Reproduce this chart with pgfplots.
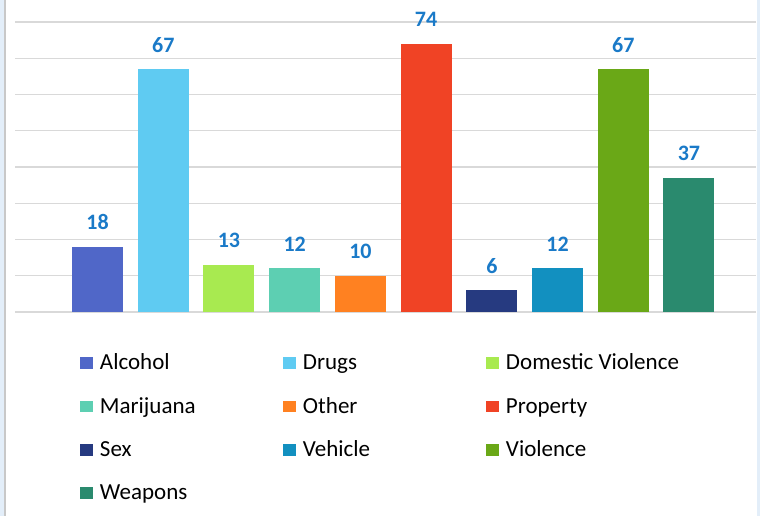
\documentclass[border=0pt]{standalone}
\usepackage{pgfplots}
\pgfplotsset{compat=1.18}
\usepackage{fontspec}
\setmainfont{Carlito}
\definecolor{cAlc}{RGB}{80,103,200}
\definecolor{cDrug}{RGB}{95,203,242}
\definecolor{cDom}{RGB}{168,234,80}
\definecolor{cMar}{RGB}{93,207,178}
\definecolor{cOth}{RGB}{255,129,33}
\definecolor{cProp}{RGB}{240,67,37}
\definecolor{cSex}{RGB}{38,58,128}
\definecolor{cVeh}{RGB}{18,144,192}
\definecolor{cVio}{RGB}{106,168,23}
\definecolor{cWea}{RGB}{42,138,110}
\definecolor{gridgray}{RGB}{217,217,217}
\definecolor{labelblue}{RGB}{26,122,200}
\definecolor{edgeblue}{RGB}{227,238,249}
\definecolor{edgegray}{RGB}{200,200,200}
\begin{document}
\begin{tikzpicture}[x=1bp,y=1bp]
\useasboundingbox (0,0) rectangle (760,516);
\fill[white] (0,0) rectangle (760,516);
\fill[edgeblue] (0,0) rectangle (4,516);
\fill[edgegray] (4,0) rectangle (5.5,516);
\fill[edgeblue] (757,0) rectangle (760,516);
\begin{axis}[
  at={(15bp,204bp)}, anchor=south west,
  scale only axis, width=741bp, height=290bp,
  clip=false,
  /pgf/number format/assume math mode=true,
  xmin=-1.256, xmax=10.02, ymin=0, ymax=80,
  ytick={0,10,...,80}, yticklabels={}, xtick=\empty,
  ymajorgrids, grid style={draw=gridgray, line width=1.3bp},
  axis line style={draw=none}, major tick length=0pt,
  ybar, bar width=51bp, bar shift=0pt,
  nodes near coords,
  every node near coord/.append style={font=\bfseries\fontsize{22bp}{26bp}\selectfont, text=labelblue, anchor=base, inner sep=0pt, yshift=17bp},
  mybar/.style={fill=#1, draw=none, legend image code/.code={\fill[fill=#1, draw=none] (0bp,-4.2bp) rectangle (13bp,7.5bp);}},
  legend columns=3,
  legend cell align=left,
  legend style={draw=none, fill=none, at={(0.0877,-0.151)}, anchor=north west,
    inner sep=0pt, outer sep=0pt, column sep=0pt, row sep=25.3bp,
    nodes={inner sep=0pt, outer sep=0pt, text height=14bp, text depth=4bp, font=\fontsize{23bp}{27bp}\selectfont},
    /tikz/every odd column/.append style={column sep=7bp}},
]
\addplot[mybar=cAlc] coordinates {(0,18)};
\addlegendentry{\makebox[183bp][l]{Alcohol}}
\addplot[mybar=cDrug] coordinates {(1,67)};
\addlegendentry{\makebox[183bp][l]{Drugs}}
\addplot[mybar=cDom] coordinates {(2,13)};
\addlegendentry{\makebox[183bp][l]{Domestic Violence}}
\addplot[mybar=cMar] coordinates {(3,12)};
\addlegendentry{\makebox[183bp][l]{Marijuana}}
\addplot[mybar=cOth] coordinates {(4,10)};
\addlegendentry{\makebox[183bp][l]{Other}}
\addplot[mybar=cProp] coordinates {(5,74)};
\addlegendentry{\makebox[183bp][l]{Property}}
\addplot[mybar=cSex] coordinates {(6,6)};
\addlegendentry{\makebox[183bp][l]{Sex}}
\addplot[mybar=cVeh] coordinates {(7,12)};
\addlegendentry{\makebox[183bp][l]{Vehicle}}
\addplot[mybar=cVio] coordinates {(8,67)};
\addlegendentry{\makebox[183bp][l]{Violence}}
\addplot[mybar=cWea] coordinates {(9,37)};
\addlegendentry{\makebox[183bp][l]{Weapons}}
\end{axis}
\end{tikzpicture}
\end{document}
